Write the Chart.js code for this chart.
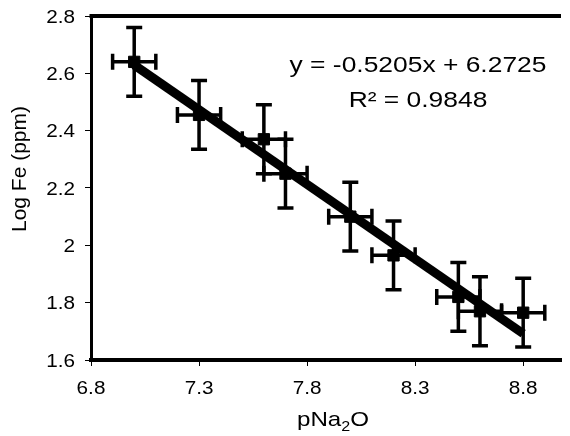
<!DOCTYPE html>
<html lang="en">
<head>
  <meta charset="UTF-8">
  <title>Log Fe vs pNa2O</title>
  <style>
    body {
      margin: 0;
      padding: 0;
      background-color: #fff;
    }

    #chart-container {
      width: 570px;
      height: 436px;
      position: relative;
    }
  </style>
  <script src="https://cdn.jsdelivr.net/npm/chart.js"></script>
</head>
<body>
  <div id="chart-container">
    <canvas id="feChart"></canvas>
  </div>

  <script>
    // Data
    const pNa2O = [7.0, 7.3, 7.6, 7.7, 8.0, 8.2, 8.5, 8.6, 8.8];
    const logFe = [2.64, 2.455, 2.37, 2.25, 2.10, 1.965, 1.82, 1.77, 1.765];
    const xErr = [0.1, 0.1, 0.1, 0.1, 0.1, 0.1, 0.1, 0.1, 0.1];
    const yErr = [0.12, 0.12, 0.12, 0.12, 0.12, 0.12, 0.12, 0.12, 0.12];

    // Linear fit endpoints (y = -0.5205x + 6.2725)
    const fitX = [7.0, 8.8];
    const fitY = [2.629, 1.692];

    const xTicks = [6.8, 7.3, 7.8, 8.3, 8.8];
    const yTicks = [1.6, 1.8, 2.0, 2.2, 2.4, 2.6, 2.8];
    const xTickLabels = ['6.8', '7.3', '7.8', '8.3', '8.8'];
    const yTickLabels = ['1.6', '1.8', '2', '2.2', '2.4', '2.6', '2.8'];

    const eqText = 'y = -0.5205x + 6.2725';
    const r2Text = 'R\u00B2 = 0.9848';
    const yTitle = 'Log Fe (ppm)';

    const FONT = "'Liberation Sans', Arial, sans-serif";
    Chart.defaults.font.family = FONT;
    Chart.defaults.color = '#000';

    // Draws text stretched horizontally; align is 'center' or 'right'
    const stretchedText = (ctx, text, x, y, size, sx, align = 'center', base = 'alphabetic') => {
      ctx.save();
      ctx.font = size + 'px ' + FONT;
      ctx.textAlign = align;
      ctx.textBaseline = base;
      ctx.translate(x, y);
      ctx.scale(sx, 1);
      ctx.fillText(text, 0, 0);
      ctx.restore();
    };

    const errorBars = {
      id: 'errorBars',
      beforeDatasetsDraw(chart) {
        const { ctx, scales: { x, y } } = chart;
        const cap = 8;
        ctx.save();
        ctx.strokeStyle = '#000';
        ctx.lineWidth = 3.5;
        pNa2O.forEach((xv, i) => {
          const px = x.getPixelForValue(xv);
          const py = y.getPixelForValue(logFe[i]);
          const top = y.getPixelForValue(logFe[i] + yErr[i]);
          const bot = y.getPixelForValue(logFe[i] - yErr[i]);
          const lft = x.getPixelForValue(xv - xErr[i]);
          const rgt = x.getPixelForValue(xv + xErr[i]);
          ctx.beginPath();
          ctx.moveTo(px, top); ctx.lineTo(px, bot);
          ctx.moveTo(px - cap, top); ctx.lineTo(px + cap, top);
          ctx.moveTo(px - cap, bot); ctx.lineTo(px + cap, bot);
          ctx.moveTo(lft, py); ctx.lineTo(rgt, py);
          ctx.moveTo(lft, py - cap); ctx.lineTo(lft, py + cap);
          ctx.moveTo(rgt, py - cap); ctx.lineTo(rgt, py + cap);
          ctx.stroke();
        });
        ctx.restore();
      }
    };

    const decorations = {
      id: 'decorations',
      afterDraw(chart) {
        const { ctx, chartArea: a, scales: { x, y } } = chart;
        ctx.save();
        // top frame line
        ctx.strokeStyle = '#000';
        ctx.lineWidth = 4;
        ctx.beginPath();
        ctx.moveTo(a.left - 1.5, a.top);
        ctx.lineTo(a.right, a.top);
        ctx.stroke();

        ctx.fillStyle = '#000';

        // tick labels
        xTicks.forEach((v, i) => {
          stretchedText(ctx, xTickLabels[i], x.getPixelForValue(v), 394, 18, 1.15);
        });
        yTicks.forEach((v, i) => {
          stretchedText(ctx, yTickLabels[i], a.left - 16, y.getPixelForValue(v) + 6.5, 18, 1.15, 'right');
        });

        stretchedText(ctx, eqText, 418, 72, 22, 1.2);
        stretchedText(ctx, r2Text, 418, 107, 22, 1.2);

        // y axis title
        ctx.save();
        ctx.translate(26, 169);
        ctx.rotate(-Math.PI / 2);
        ctx.font = '21px ' + FONT;
        ctx.textAlign = 'center';
        ctx.textBaseline = 'alphabetic';
        ctx.fillText(yTitle, 0, 0);
        ctx.restore();

        // x axis title with subscript
        ctx.save();
        ctx.translate(333, 426);
        ctx.scale(1.15, 1);
        ctx.font = '21px ' + FONT;
        const w1 = ctx.measureText('pNa').width;
        const w3 = ctx.measureText('O').width;
        ctx.font = '14px ' + FONT;
        const w2 = ctx.measureText('2').width;
        let cx = -(w1 + w2 + w3) / 2;
        ctx.textAlign = 'left';
        ctx.font = '21px ' + FONT;
        ctx.fillText('pNa', cx, 0);
        cx += w1;
        ctx.font = '14px ' + FONT;
        ctx.fillText('2', cx, 5);
        cx += w2;
        ctx.font = '21px ' + FONT;
        ctx.fillText('O', cx, 0);
        ctx.restore();

        ctx.restore();
      }
    };

    const ctx = document.getElementById('feChart').getContext('2d');
    const feChart = new Chart(ctx, {
      type: 'scatter',
      data: {
        datasets: [
          {
            label: 'Fit',
            type: 'line',
            data: fitX.map((v, i) => ({ x: v, y: fitY[i] })),
            borderColor: '#000',
            borderWidth: 9,
            pointRadius: 0,
            fill: false
          },
          {
            label: 'Log Fe',
            data: pNa2O.map((v, i) => ({ x: v, y: logFe[i] })),
            pointStyle: 'rect',
            pointRadius: 8,
            backgroundColor: '#000',
            borderColor: '#000'
          }
        ]
      },
      options: {
        responsive: true,
        maintainAspectRatio: false,
        animation: false,
        layout: { padding: { top: 16, left: 0, right: 0, bottom: 0 } },
        plugins: { legend: { display: false }, tooltip: { enabled: false } },
        scales: {
          x: {
            type: 'linear',
            min: 6.8,
            max: 8.975,
            afterBuildTicks: (s) => { s.ticks = xTicks.map((v) => ({ value: v })); },
            afterFit: (s) => { s.height = 76; },
            ticks: { display: false },
            grid: { drawOnChartArea: false, drawTicks: true, tickLength: 6, color: '#000', lineWidth: 1 },
            border: { display: true, color: '#000', width: 4 }
          },
          y: {
            type: 'linear',
            min: 1.6,
            max: 2.8,
            afterBuildTicks: (s) => { s.ticks = yTicks.map((v) => ({ value: v })); },
            afterFit: (s) => { s.width = 91; },
            ticks: { display: false },
            grid: { drawOnChartArea: false, drawTicks: true, tickLength: 6, color: '#000', lineWidth: 1 },
            border: { display: true, color: '#000', width: 3 }
          }
        }
      },
      plugins: [errorBars, decorations]
    });
  </script>
</body>
</html>
